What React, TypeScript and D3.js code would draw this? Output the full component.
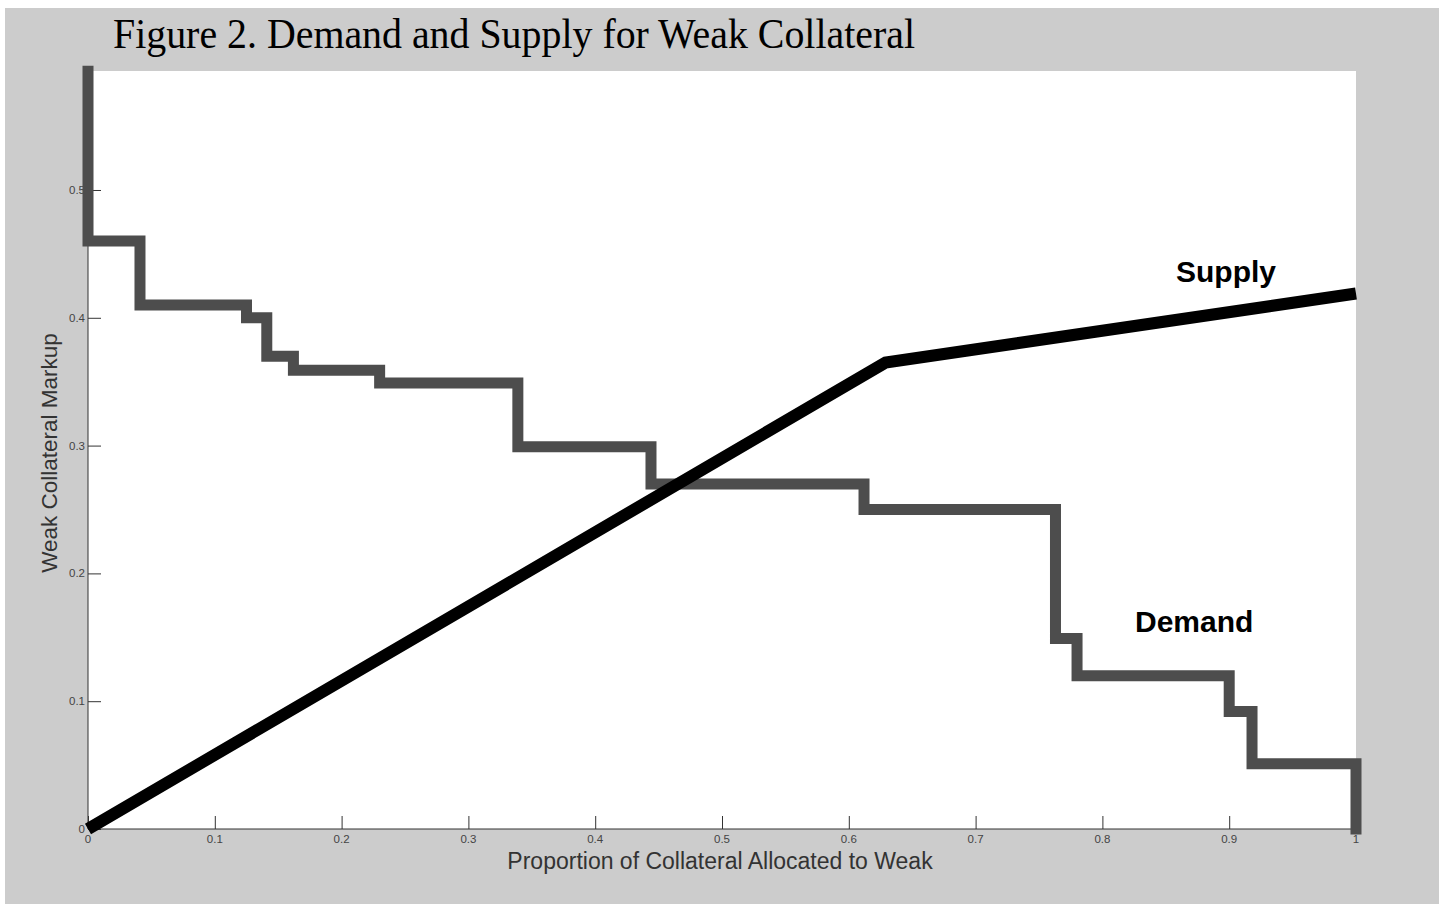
import React, { useEffect, useRef } from 'react';
import * as d3 from 'd3';

interface Pt {
  x: number;
  y: number;
}

// Demand step curve (x = proportion, y = markup)
const demandX = [0, 0, 0.041, 0.041, 0.125, 0.125, 0.141, 0.141, 0.162, 0.162, 0.23, 0.23, 0.339, 0.339, 0.444, 0.444, 0.612, 0.612, 0.763, 0.763, 0.78, 0.78, 0.9, 0.9, 0.918, 0.918, 1, 1];
const demandY = [0.593, 0.46, 0.46, 0.41, 0.41, 0.4, 0.4, 0.37, 0.37, 0.359, 0.359, 0.349, 0.349, 0.299, 0.299, 0.27, 0.27, 0.25, 0.25, 0.149, 0.149, 0.12, 0.12, 0.092, 0.092, 0.051, 0.051, 0];

// Supply: piecewise linear
const supplyX = [0, 0.629, 1];
const supplyY = [0, 0.365, 0.419];

const xTicks = [0, 0.1, 0.2, 0.3, 0.4, 0.5, 0.6, 0.7, 0.8, 0.9, 1];
const yTicks = [0, 0.1, 0.2, 0.3, 0.4, 0.5];

const title = 'Figure 2. Demand and Supply for Weak Collateral';
const xLabel = 'Proportion of Collateral Allocated to Weak';
const yLabel = 'Weak Collateral Markup';

const W = 1439;
const H = 904;

const App: React.FC = () => {
  const svgRef = useRef<SVGSVGElement>(null);

  useEffect(() => {
    if (!svgRef.current) return;
    const svg = d3.select(svgRef.current);
    svg.selectAll('*').remove();

    const plot = { left: 88, top: 71, right: 1356, bottom: 829 };

    const x = d3.scaleLinear().domain([0, 1]).range([plot.left, plot.right]);
    const y = d3.scaleLinear().domain([0, 0.5931]).range([plot.bottom, plot.top]);

    // backgrounds
    svg.append('rect').attr('width', W).attr('height', H).attr('fill', '#ffffff');
    svg.append('rect')
      .attr('x', 5).attr('y', 8)
      .attr('width', W - 5).attr('height', H - 8)
      .attr('fill', '#cccccc');
    svg.append('rect')
      .attr('x', plot.left).attr('y', plot.top)
      .attr('width', plot.right - plot.left)
      .attr('height', plot.bottom - plot.top)
      .attr('fill', '#ffffff');

    // title
    svg.append('text')
      .attr('x', 113)
      .attr('y', 48)
      .attr('textLength', 802)
      .attr('lengthAdjust', 'spacingAndGlyphs')
      .style('font-family', '"Liberation Serif", "Times New Roman", serif')
      .style('font-size', '42px')
      .attr('fill', '#000')
      .text(title);

    // axes
    const xAxis = svg.append('g')
      .attr('transform', `translate(0,${plot.bottom})`)
      .call(d3.axisTop(x).tickValues(xTicks).tickSize(13).tickFormat(() => ''));
    xAxis.select('.domain').attr('stroke', '#333').attr('d', `M${plot.left},0H${plot.right}`);
    xAxis.selectAll('.tick line').attr('stroke', '#333');

    const yAxis = svg.append('g')
      .attr('transform', `translate(${plot.left},0)`)
      .call(d3.axisRight(y).tickValues(yTicks).tickSize(13).tickFormat(() => ''));
    yAxis.select('.domain').attr('stroke', '#333').attr('d', `M0,${plot.bottom}V${plot.top}`);
    yAxis.selectAll('.tick line').attr('stroke', '#333');

    const tickFont = '"Liberation Sans", Arial, Helvetica, sans-serif';
    svg.append('g').selectAll('text')
      .data(xTicks)
      .enter().append('text')
      .attr('x', d => x(d))
      .attr('y', plot.bottom + 14)
      .attr('text-anchor', 'middle')
      .style('font-family', tickFont)
      .style('font-size', '11.5px')
      .attr('fill', '#444')
      .text(d => String(d));

    svg.append('g').selectAll('text')
      .data(yTicks)
      .enter().append('text')
      .attr('x', plot.left - 3)
      .attr('y', d => y(d) + 4)
      .attr('text-anchor', 'end')
      .style('font-family', tickFont)
      .style('font-size', '11.5px')
      .attr('fill', '#444')
      .text(d => String(d));

    // axis labels
    svg.append('text')
      .attr('x', 720)
      .attr('y', 869)
      .attr('text-anchor', 'middle')
      .style('font-family', tickFont)
      .style('font-size', '23px')
      .attr('fill', '#333')
      .text(xLabel);

    svg.append('text')
      .attr('transform', 'rotate(-90)')
      .attr('x', -453)
      .attr('y', 57)
      .attr('text-anchor', 'middle')
      .style('font-family', tickFont)
      .style('font-size', '22.5px')
      .attr('fill', '#333')
      .text(yLabel);

    const line = d3.line<Pt>().x(d => x(d.x)).y(d => y(d.y));

    const demand: Pt[] = demandX.map((v, i) => ({ x: v, y: demandY[i] }));
    const supply: Pt[] = supplyX.map((v, i) => ({ x: v, y: supplyY[i] }));

    svg.append('path')
      .datum(demand)
      .attr('fill', 'none')
      .attr('stroke', '#4d4d4d')
      .attr('stroke-width', 11)
      .attr('stroke-linecap', 'square')
      .attr('stroke-linejoin', 'miter')
      .attr('d', line);

    svg.append('path')
      .datum(supply)
      .attr('fill', 'none')
      .attr('stroke', '#000')
      .attr('stroke-width', 12)
      .attr('stroke-linejoin', 'miter')
      .attr('d', line);

    // curve labels
    svg.append('text')
      .attr('x', 1176)
      .attr('y', 282)
      .style('font-family', tickFont)
      .style('font-weight', 'bold')
      .style('font-size', '30px')
      .attr('fill', '#000')
      .text('Supply');

    svg.append('text')
      .attr('x', 1135)
      .attr('y', 632)
      .style('font-family', tickFont)
      .style('font-weight', 'bold')
      .style('font-size', '30px')
      .attr('fill', '#000')
      .text('Demand');
  }, []);

  return (
    <div style={{ position: 'absolute', left: 0, top: 0 }}>
      <svg ref={svgRef} width={W} height={H} style={{ display: 'block' }} />
    </div>
  );
};

export default App;
